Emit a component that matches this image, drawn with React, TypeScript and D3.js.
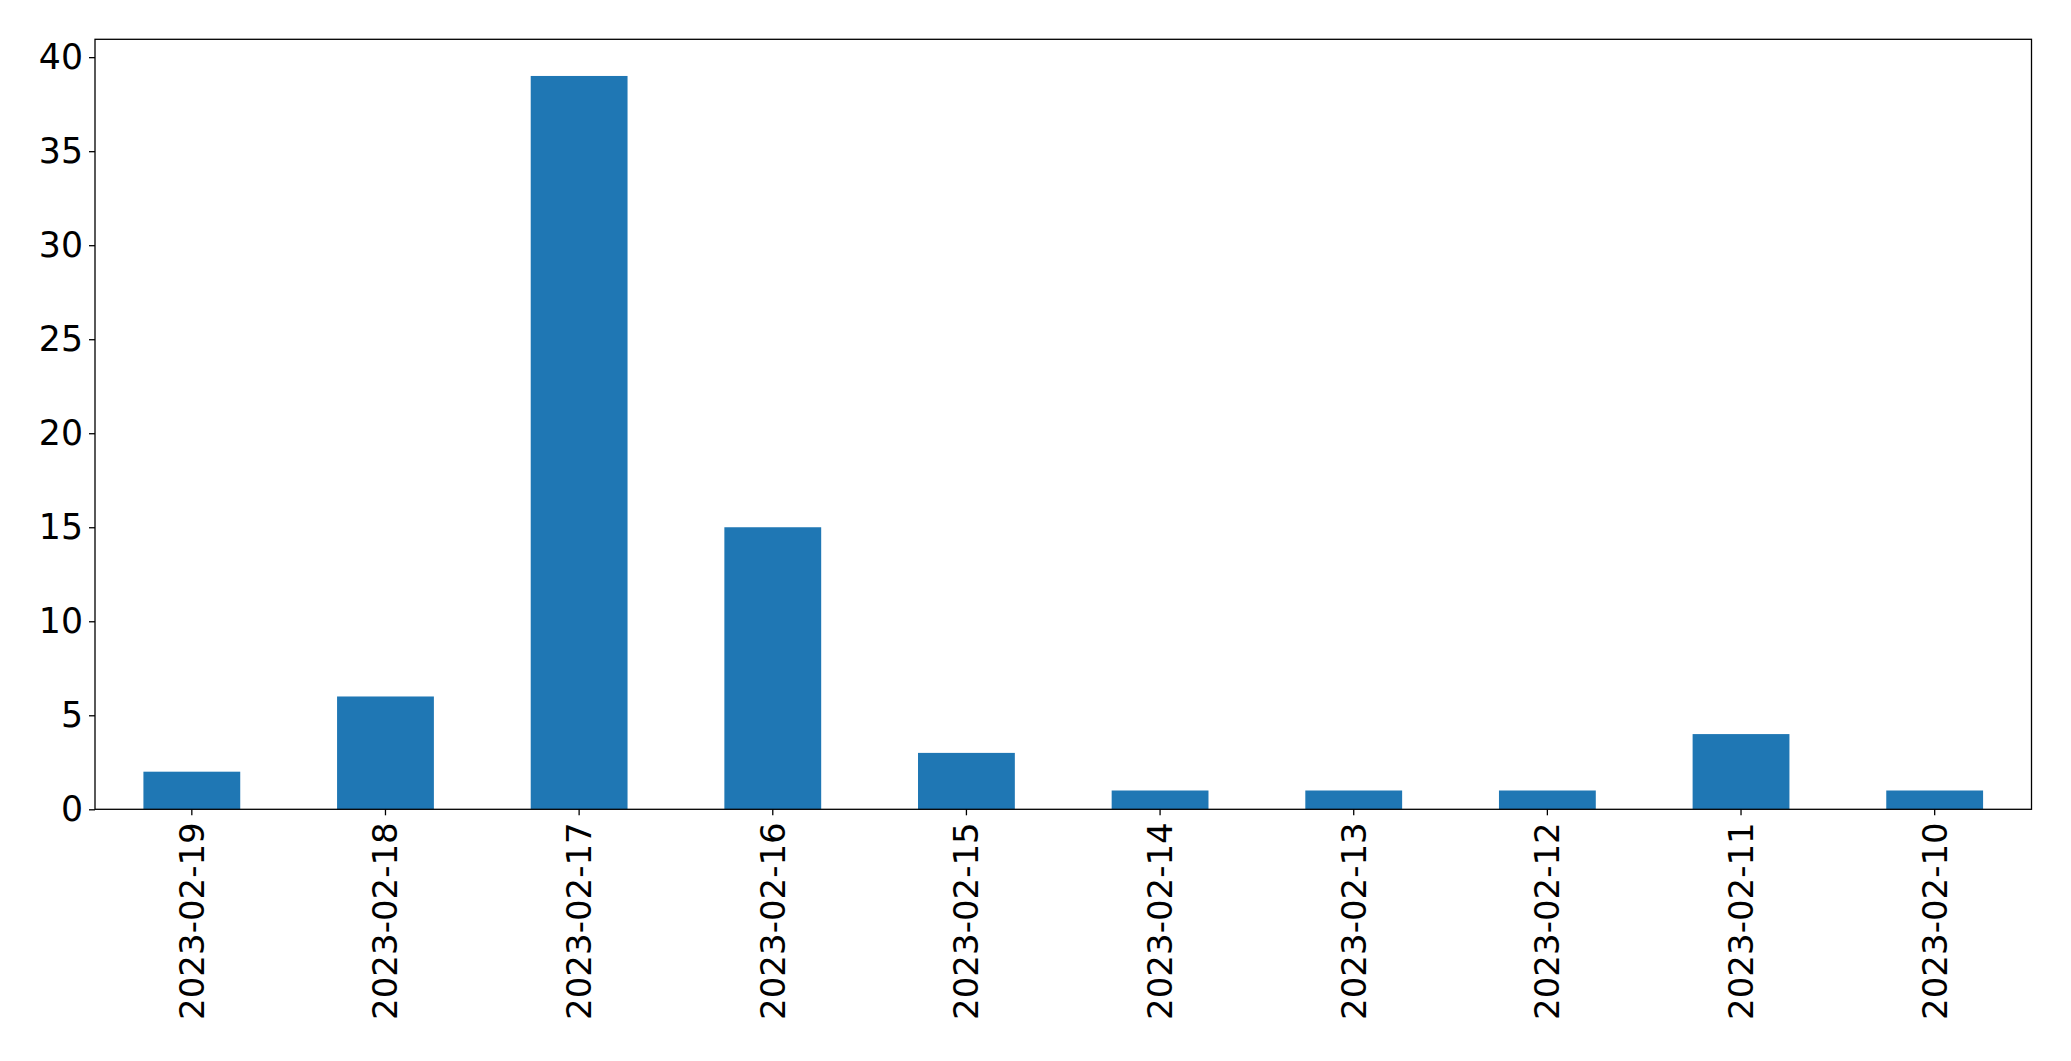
import React, { useEffect, useRef } from "react";
import * as d3 from "d3";

const categories = [
  "2023-02-19", "2023-02-18", "2023-02-17", "2023-02-16", "2023-02-15",
  "2023-02-14", "2023-02-13", "2023-02-12", "2023-02-11", "2023-02-10",
];
const values = [2, 6, 39, 15, 3, 1, 1, 1, 4, 1];
const yTicks = [0, 5, 10, 15, 20, 25, 30, 35, 40];

const W = 2071;
const H = 1061;
const M = { left: 95, right: 2031.5, top: 39.3, bottom: 809.3 };

export default function App() {
  const ref = useRef<SVGSVGElement>(null);
  useEffect(() => {
    const svg = d3.select(ref.current);
    svg.selectAll("*").remove();
    const x = d3.scaleBand<string>().domain(categories).range([M.left, M.right]).paddingInner(0.5).paddingOuter(0.25);
    const y = d3.scaleLinear().domain([0, 40.95]).range([M.bottom, M.top]);
    const font = "'DejaVu Sans', sans-serif";

    svg.append("g").selectAll("rect").data(values).join("rect")
      .attr("x", (_, i) => x(categories[i])!)
      .attr("width", x.bandwidth())
      .attr("y", (d) => y(d))
      .attr("height", (d) => y(0) - y(d))
      .attr("fill", "#1f77b4");

    svg.append("rect")
      .attr("x", M.left).attr("y", M.top)
      .attr("width", M.right - M.left).attr("height", M.bottom - M.top)
      .attr("fill", "none").attr("stroke", "#000").attr("stroke-width", 1.3);

    const yAxis = svg.append("g").attr("transform", `translate(${M.left},0)`)
      .call(d3.axisLeft(y).tickValues(yTicks).tickSize(6).tickPadding(6).tickFormat(d3.format("d")));
    yAxis.select(".domain").remove();
    yAxis.selectAll("line").attr("stroke", "#000").attr("stroke-width", 1.3);
    yAxis.selectAll("text").attr("font-family", font).attr("font-size", 34.7).attr("fill", "#000");

    const xAxis = svg.append("g").attr("transform", `translate(0,${M.bottom})`)
      .call(d3.axisBottom(x).tickSize(6).tickPadding(0));
    xAxis.select(".domain").remove();
    xAxis.selectAll("line").attr("stroke", "#000").attr("stroke-width", 1.3);
    xAxis.selectAll("text")
      .attr("font-family", font).attr("font-size", 34).attr("fill", "#000")
      .attr("transform", "rotate(-90)")
      .attr("x", -13).attr("y", 0).attr("dy", "0.35em")
      .attr("text-anchor", "end");
  }, []);
  return (
    <svg ref={ref} width={W} height={H} style={{ position: "absolute", left: 0, top: 0, background: "#fff" }} />
  );
}
